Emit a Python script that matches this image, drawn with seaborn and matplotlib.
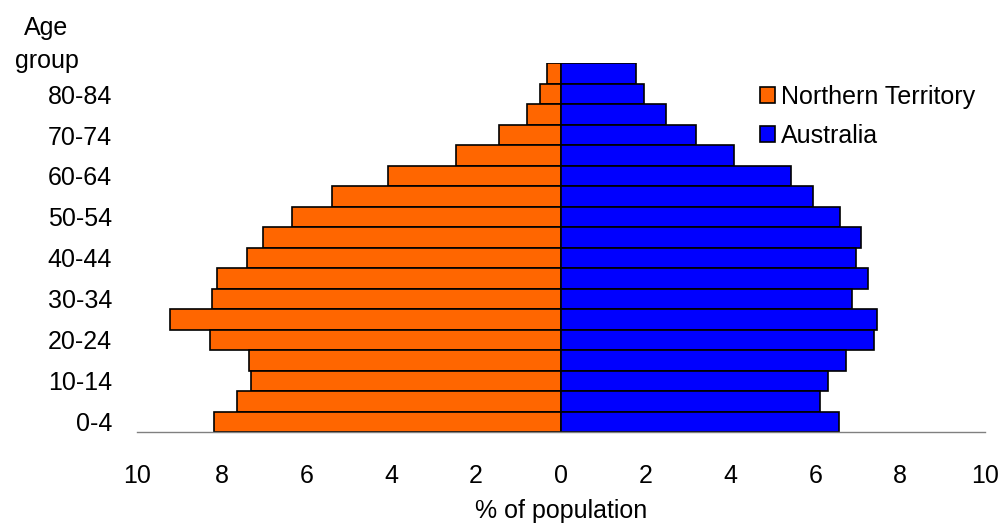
import pandas as pd
import seaborn as sns
import matplotlib.pyplot as plt

ages = ['0-4', '5-9', '10-14', '15-19', '20-24', '25-29', '30-34', '35-39', '40-44',
        '45-49', '50-54', '55-59', '60-64', '65-69', '70-74', '75-79', '80-84', '85+']
nt = [8.18, 7.65, 7.30, 7.35, 8.28, 9.22, 8.23, 8.11, 7.40,
      7.03, 6.34, 5.41, 4.09, 2.47, 1.46, 0.79, 0.50, 0.32]
aus = [6.55, 6.12, 6.29, 6.72, 7.39, 7.46, 6.87, 7.25, 6.96,
       7.07, 6.58, 5.95, 5.43, 4.08, 3.18, 2.48, 1.97, 1.78]
regions = ['Northern Territory', 'Australia']
colors = ['#FF6600', '#0000FF']
xticks = [-10, -8, -6, -4, -2, 0, 2, 4, 6, 8, 10]
xticklabels = ['10', '8', '6', '4', '2', '0', '2', '4', '6', '8', '10']

sns.set_style("white")
plt.rcParams['font.family'] = ['Liberation Sans', 'DejaVu Sans']
plt.rcParams['font.size'] = 18
for k in ['text.color', 'axes.labelcolor', 'xtick.color', 'ytick.color']:
    plt.rcParams[k] = 'black'

# NT goes to the left, so negate it
df = pd.DataFrame({
    'age': ages + ages,
    'pct': [-v for v in nt] + aus,
    'region': [regions[0]] * len(ages) + [regions[1]] * len(ages),
})

fig = plt.figure(figsize=(10.02, 5.24), dpi=100)
ax = fig.add_axes([0.1367, 0.1756, 0.8463, 0.7035])

sns.barplot(data=df, y='age', x='pct', hue='region', order=ages[::-1],
            hue_order=regions, palette=colors, saturation=1, dodge=False, width=1.0,
            edgecolor='black', linewidth=1.2, orient='h', ax=ax)

ax.set_xlim(-10, 10)
ax.set_ylim(len(ages) - 0.5, -0.5)
ax.set_xticks(xticks)
ax.set_xticklabels(xticklabels)
ax.set_yticks([len(ages) - 1 - i for i in range(0, 17, 2)])
ax.set_yticklabels(ages[0:17:2])
ax.tick_params(axis='y', length=0, pad=18)
ax.tick_params(axis='x', length=0, pad=23)
ax.set_xlabel('% of population', labelpad=8)
ax.set_ylabel('')

for s in ['top', 'right', 'left']:
    ax.spines[s].set_visible(False)
ax.spines['bottom'].set_color('#808080')
ax.spines['bottom'].set_linewidth(1.0)

fig.text(0.046, 0.947, 'Age', ha='center', va='center')
fig.text(0.047, 0.883, 'group', ha='center', va='center')

ax.legend(loc='upper left', bbox_to_anchor=(0.758, 0.838), bbox_transform=fig.transFigure,
          frameon=False, handlelength=0.6, handleheight=0.6, handletextpad=0.25,
          labelspacing=0.6, borderpad=0, borderaxespad=0)

fig.savefig('out.png', dpi=100)
